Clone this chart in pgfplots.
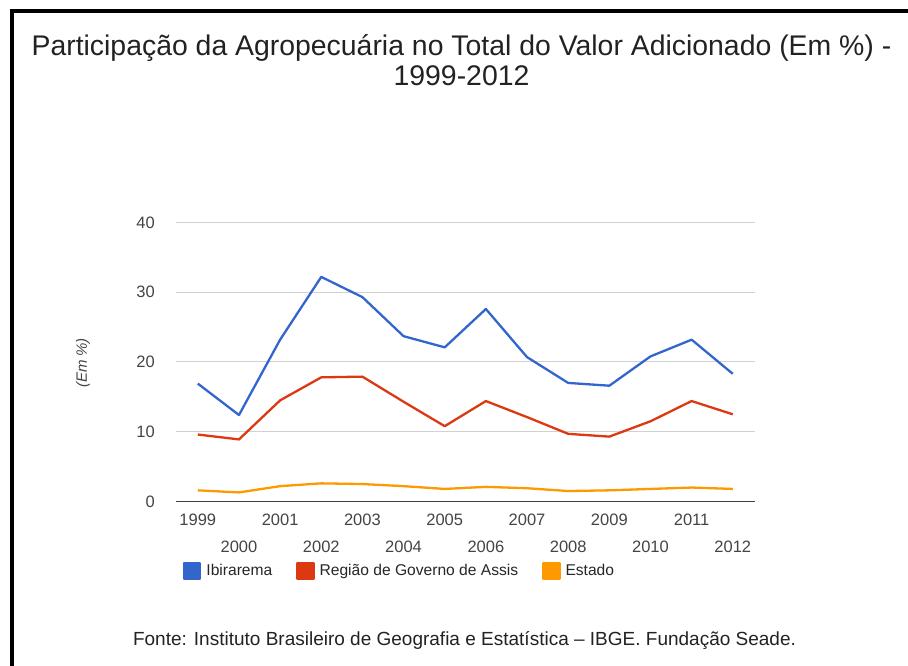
\documentclass[border=0pt]{standalone}
\usepackage{pgfplots}
\pgfplotsset{compat=1.18}
\usepackage{fontspec}
\setmainfont{Liberation Sans}
\definecolor{gblue}{HTML}{3366CC}
\definecolor{gred}{HTML}{DC3912}
\definecolor{gorange}{HTML}{FF9900}
\definecolor{ticktxt}{HTML}{444444}
\definecolor{titletxt}{HTML}{222222}
\begin{document}
\begin{tikzpicture}[x=1bp,y=1bp]
\useasboundingbox (0,0) rectangle (908,666);
\begin{scope}
\clip (0,0) rectangle (908,666);
\draw[line width=4bp] (11.5,-20) -- (11.5,654.5) -- (930,654.5);
\end{scope}
\node[align=center, font=\fontsize{28.4bp}{30bp}\selectfont, text=titletxt] at (461.5,606)
  {Participação da Agropecuária no Total do Valor Adicionado (Em \%) -\\1999-2012};
\node[rotate=90, font=\fontsize{15bp}{18bp}\selectfont\itshape, text=ticktxt] at (83,303) {(Em \%)};
\node[font=\fontsize{19bp}{21bp}\selectfont, text=titletxt] at (464.5,25)
  {Fonte: Instituto Brasileiro de Geografia e Estatística – IBGE. Fundação Seade.};
\begin{axis}[
  at={(176bp,164.5bp)}, anchor=south west,
  scale only axis, width=579bp, height=279bp,
  xmin=1998.47, xmax=2012.54, ymin=0, ymax=40,
  axis line style={draw=none},
  major tick length=0pt,
  /pgf/number format/assume math mode=true,
  /pgf/number format/1000 sep={},
  ticklabel style={font=\fontsize{16.5bp}{19bp}\selectfont, text=ticktxt, inner sep=0pt},
  ytick={10,20,30,40},
  yticklabel style={anchor=east, xshift=-21bp},
  extra y ticks={0},
  extra y tick style={ymajorgrids=true, grid style={draw=black!75, line width=1.5bp}},
  ymajorgrids,
  grid style={draw=black!18, line width=1bp},
  xtick={1999,2001,2003,2005,2007,2009,2011},
  xticklabel style={anchor=center, yshift=-18.5bp},
  extra x ticks={2000,2002,2004,2006,2008,2010,2012},
  extra x tick style={xticklabel style={yshift=-26.5bp}},
  clip=false,
  legend columns=3,
  legend style={at={(axis description cs:0.012,-0.249)}, anchor=west, draw=none, fill=none,
    inner sep=0pt, font=\fontsize{15.6bp}{19bp}\selectfont, text=black!85,
    /tikz/every odd column/.append style={column sep=5bp},
    /tikz/every even column/.append style={column sep=24bp},
    nodes={inner sep=0pt}},
  legend image code/.code={\fill[#1] (0bp,-8bp) rectangle (16bp,8bp);},
]
\addplot[gblue, line width=2.3bp, line join=round] coordinates {
(1999,16.9) (2000,12.4) (2001,23.2) (2002,32.2) (2003,29.3) (2004,23.7) (2005,22.1)
(2006,27.6) (2007,20.7) (2008,17.0) (2009,16.6) (2010,20.8) (2011,23.2) (2012,18.3)};
\addlegendentry{Ibirarema}
\addplot[gred, line width=2.3bp, line join=round] coordinates {
(1999,9.6) (2000,8.9) (2001,14.5) (2002,17.8) (2003,17.9) (2004,14.3) (2005,10.8)
(2006,14.4) (2007,12.1) (2008,9.7) (2009,9.3) (2010,11.5) (2011,14.4) (2012,12.5)};
\addlegendentry{Região de Governo de Assis}
\addplot[gorange, line width=2.3bp, line join=round] coordinates {
(1999,1.6) (2000,1.3) (2001,2.2) (2002,2.6) (2003,2.5) (2004,2.2) (2005,1.8)
(2006,2.1) (2007,1.9) (2008,1.5) (2009,1.6) (2010,1.8) (2011,2.0) (2012,1.8)};
\addlegendentry{Estado}
\end{axis}
\end{tikzpicture}
\end{document}
